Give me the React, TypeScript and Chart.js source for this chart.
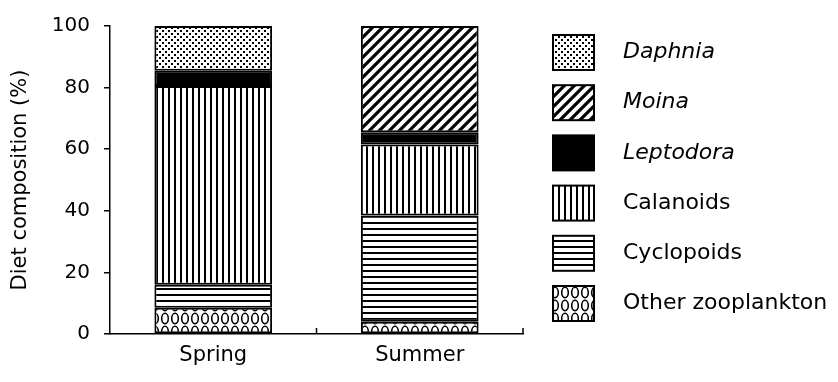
import React, { useEffect, useRef } from "react";
import { Chart, registerables } from "chart.js";

Chart.register(...registerables);

const categories = ["Spring", "Summer"];
const otherZooplankton = [8.5, 4];
const cyclopoids = [7.5, 34.5];
const calanoids = [64.5, 23];
const leptodora = [5, 4];
const moina: (number | null)[] = [null, 34.5];
const daphnia: (number | null)[] = [14.5, null];
const yTicks = [0, 20, 40, 60, 80, 100];

const FONT = "'DejaVu Sans', 'Liberation Sans', Arial, sans-serif";

function makeTile(w: number, h: number, draw: (c: CanvasRenderingContext2D) => void) {
  const cv = document.createElement("canvas");
  cv.width = w;
  cv.height = h;
  const c = cv.getContext("2d")!;
  c.fillStyle = "#fff";
  c.fillRect(0, 0, w, h);
  c.fillStyle = "#000";
  c.strokeStyle = "#000";
  draw(c);
  return c.createPattern(cv, "repeat")!;
}

function buildPatterns() {
  const dots = makeTile(6, 6, (c) => {
    c.fillRect(0, 0, 2, 2);
    c.fillRect(3, 3, 2, 2);
  });
  const diag = makeTile(10, 10, (c) => {
    c.lineWidth = 3.2;
    c.beginPath();
    c.moveTo(-5, 15);
    c.lineTo(15, -5);
    c.moveTo(-10, 10);
    c.lineTo(10, -10);
    c.moveTo(0, 20);
    c.lineTo(20, 0);
    c.stroke();
  });
  const vert = makeTile(6, 6, (c) => {
    c.fillRect(0, 0, 2, 6);
  });
  const horiz = makeTile(6, 6, (c) => {
    c.fillRect(0, 0, 6, 2);
  });
  const ovals = makeTile(10, 13, (c) => {
    c.lineWidth = 1.6;
    c.beginPath();
    c.ellipse(5, 6.5, 3.3, 5.2, 0, 0, Math.PI * 2);
    c.stroke();
  });
  return { dots, diag, vert, horiz, ovals };
}

export default function App() {
  const ref = useRef<HTMLCanvasElement | null>(null);

  useEffect(() => {
    if (!ref.current) return;
    const p = buildPatterns();

    const datasets = [
      { label: "Other zooplankton", data: otherZooplankton, backgroundColor: p.ovals, italic: false },
      { label: "Cyclopoids", data: cyclopoids, backgroundColor: p.horiz, italic: false },
      { label: "Calanoids", data: calanoids, backgroundColor: p.vert, italic: false },
      { label: "Leptodora", data: leptodora, backgroundColor: "#000", italic: true },
      { label: "Moina", data: moina, backgroundColor: p.diag, italic: true },
      { label: "Daphnia", data: daphnia, backgroundColor: p.dots, italic: true },
    ].map((d) => ({
      ...d,
      borderColor: "#000",
      borderWidth: 2,
      borderSkipped: false as const,
      barPercentage: 0.57,
      categoryPercentage: 1,
    }));

    const legendPlugin = {
      id: "customLegend",
      afterDraw(chart: any) {
        const ctx = chart.ctx as CanvasRenderingContext2D;
        const area = chart.chartArea;
        const boxX = area.right + 30;
        const boxW = 41;
        const boxH = 35;
        const step = 50.2;
        const top0 = area.top + 9;
        const items = [...chart.data.datasets].reverse();
        ctx.save();
        items.forEach((ds: any, i: number) => {
          const y = top0 + i * step;
          ctx.fillStyle = ds.backgroundColor;
          ctx.fillRect(boxX, y, boxW, boxH);
          ctx.lineWidth = 2;
          ctx.strokeStyle = "#000";
          ctx.strokeRect(boxX, y, boxW, boxH);
          ctx.fillStyle = "#000";
          ctx.font = `${ds.italic ? "italic " : ""}22px ${FONT}`;
          ctx.textBaseline = "middle";
          ctx.textAlign = "left";
          ctx.fillText(ds.label, boxX + 70, y + boxH / 2);
        });
        // x-axis inward ticks at category boundaries
        const xs = chart.scales.x;
        const n = xs.ticks.length;
        const w = (xs.right - xs.left) / n;
        ctx.strokeStyle = "#000";
        ctx.lineWidth = 1.5;
        ctx.beginPath();
        for (let i = 1; i <= n; i++) {
          const x = xs.left + i * w;
          ctx.moveTo(x, xs.top);
          ctx.lineTo(x, xs.top - 6);
        }
        ctx.stroke();
        ctx.restore();
      },
    };

    Chart.defaults.color = "#000";
    const chart = new Chart(ref.current, {
      type: "bar",
      data: { labels: categories, datasets: datasets as any },
      options: {
        animation: false,
        responsive: false,
        layout: { padding: { left: 0, top: 23, right: 315, bottom: 0 } },
        plugins: { legend: { display: false }, tooltip: { enabled: false } },
        scales: {
          x: {
            stacked: true,
            grid: { display: false },
            border: { display: true, color: "#000", width: 1.5 },
            ticks: { font: { family: FONT, size: 21 }, color: "#000", padding: 1 },
            afterFit: (s: any) => {
              s.height = 48;
            },
          },
          y: {
            stacked: true,
            min: 0,
            max: 100,
            afterBuildTicks: (s: any) => {
              s.ticks = yTicks.map((v) => ({ value: v }));
            },
            grid: {
              display: true,
              drawOnChartArea: false,
              drawTicks: true,
              tickLength: 6,
              color: "#000",
              lineWidth: 1.5,
            },
            border: { display: true, color: "#000", width: 1.5 },
            ticks: { font: { family: FONT, size: 20 }, color: "#000", padding: 14 },
            title: {
              display: true,
              text: "Diet composition (%)",
              font: { family: FONT, size: 21 },
              color: "#000",
              padding: { top: 8, bottom: 0 },
            },
            afterFit: (s: any) => {
              s.width = 110;
            },
          },
        },
      },
      plugins: [legendPlugin],
    });
    return () => chart.destroy();
  }, []);

  return (
    <div style={{ position: "fixed", left: 0, top: 0, width: 838, height: 382, background: "#fff" }}>
      <canvas ref={ref} width={838} height={382} />
    </div>
  );
}
